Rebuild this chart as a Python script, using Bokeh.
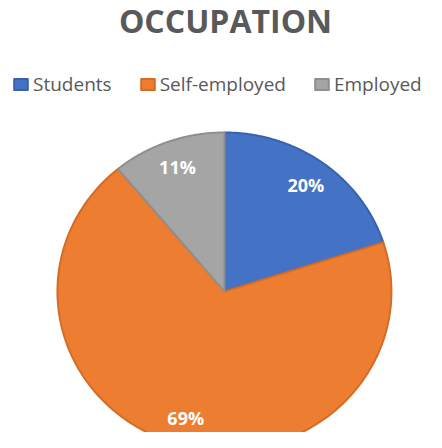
import numpy as np
from bokeh.plotting import figure
from bokeh.models import Range1d, Label, Legend, LegendItem
from bokeh.embed import file_html
from bokeh.resources import INLINE

# ---- data ----
categories = ["Students", "Self-employed", "Employed"]
shares = [20, 69, 11]
labels = ["20%", "69%", "11%"]
colors = ["#4472C4", "#ED7D31", "#A5A5A5"]
edge_colors = ["#3A62AC", "#D46C25", "#8F8F8F"]

W, H = 426, 432
p = figure(width=W, height=H, output_backend="svg", toolbar_location=None,
           min_border=0, outline_line_color=None)
p.x_range = Range1d(-1.341, 1.210)
p.y_range = Range1d(-0.887, 1.830)
p.xaxis.visible = False
p.yaxis.visible = False
p.grid.visible = False
p.background_fill_color = "white"
p.border_fill_color = "white"

total = float(sum(shares))
start = np.pi / 2
items = []
for cat, s, lab, col, ecol in zip(categories, shares, labels, colors, edge_colors):
    sweep = 2 * np.pi * s / total
    end = start - sweep
    t = np.linspace(start, end, 200)
    xs = np.concatenate([[0.0], np.cos(t), [0.0]])
    ys = np.concatenate([[0.0], np.sin(t), [0.0]])
    r = p.patch(xs, ys, fill_color=col, line_color=ecol, line_width=2, line_join="round")
    items.append(LegendItem(label=cat, renderers=[r]))
    mid = (start + end) / 2
    lr = 0.83
    p.text(x=[lr * np.cos(mid)], y=[lr * np.sin(mid)], text=[lab],
           text_align="center", text_baseline="middle",
           text_font_size="18px", text_font_style="bold",
           text_color="white", text_font={"value": "Open Sans"})
    start = end

legend = Legend(items=items, orientation="horizontal", location=(12, 335),
                border_line_color=None, background_fill_alpha=0,
                label_text_font="Open Sans", label_text_font_size="19px",
                label_text_color="#595959", glyph_width=17, glyph_height=14,
                label_standoff=4, spacing=27, padding=0, margin=0)
p.add_layout(legend, "center")

title = Label(x=225, y=412, x_units="screen", y_units="screen", text="OCCUPATION",
              text_align="center", text_baseline="alphabetic",
              text_font="Open Sans", text_font_style="bold", text_font_size="32px",
              text_color="#595959")
p.add_layout(title)

open("out.html", "w").write(file_html(p, INLINE))
